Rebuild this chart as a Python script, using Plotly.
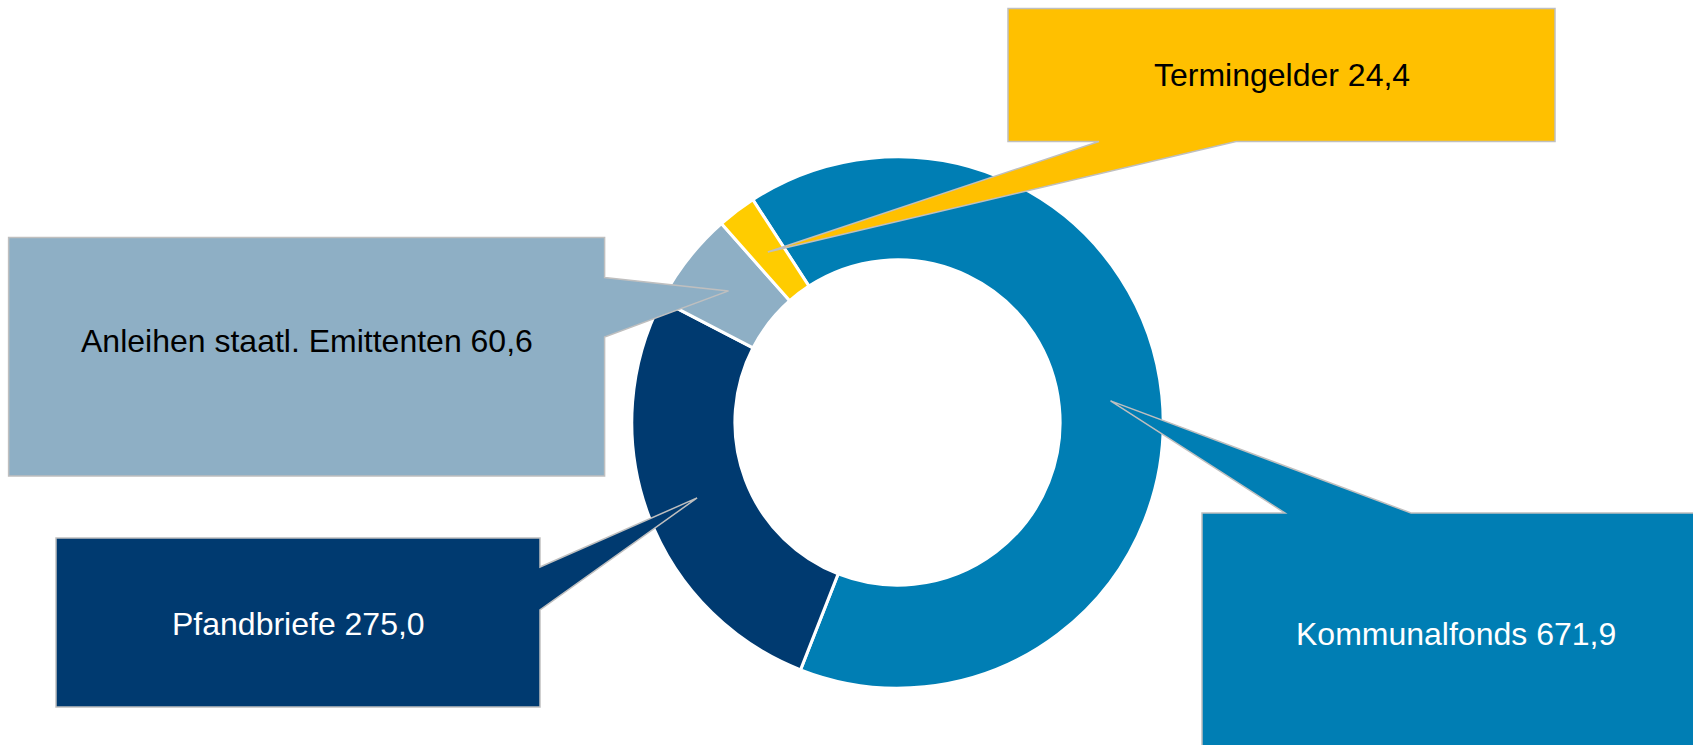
import math
import plotly.graph_objects as go

# ---- data ----
labels = ["Kommunalfonds", "Pfandbriefe", "Anleihen staatl. Emittenten", "Termingelder"]
values = [671.9, 275.0, 60.6, 24.4]
value_labels = ["671,9", "275,0", "60,6", "24,4"]

# ---- styles ----
slice_colors = ["#007EB4", "#003A70", "#8EAFC5", "#FFCC00"]
box_colors = ["#007EB4", "#003A70", "#8EAFC5", "#FFC000"]
text_colors = ["#FFFFFF", "#FFFFFF", "#000000", "#000000"]

W, H = 1693, 745
CX, CY, R_OUT = 897.5, 422.5, 265.7
HOLE = 0.612
ROTATION = -33
FONT = "Arial, Liberation Sans, sans-serif"

# callout boxes (pixel layout): box=(x0,y0,x1,y1), pointer side, pointer base span, text y
callouts = [
    dict(box=(1202, 513, 1709, 760), side="top", base=(1285, 1411), ty=634),
    dict(box=(56, 538, 540, 707), side="right", base=(567, 610), ty=624),
    dict(box=(8.6, 237.5, 604.6, 476), side="right", base=(277.5, 337), ty=341),
    dict(box=(1008, 8.6, 1555, 141.5), side="bottom", base=(1099, 1236), ty=75),
]


def px(x):
    return x / W


def py(y):
    return 1 - y / H


fig = go.Figure(
    go.Pie(
        labels=labels,
        values=values,
        hole=HOLE,
        sort=False,
        direction="clockwise",
        rotation=ROTATION,
        marker=dict(colors=slice_colors, line=dict(color="white", width=3)),
        textinfo="none",
        hoverinfo="skip",
        showlegend=False,
        domain=dict(x=[px(CX - R_OUT), px(CX + R_OUT)],
                    y=[py(CY + R_OUT), py(CY - R_OUT)]),
    )
)

# pointer tips: middle of each slice (angle) at middle of the ring (radius)
total = sum(values)
r_mid = R_OUT * (1 + HOLE) / 2
cum = 0.0
shapes, annotations = [], []
for i, v in enumerate(values):
    a = math.radians(ROTATION + (cum + v / 2) / total * 360)
    cum += v
    tx, ty_tip = CX + r_mid * math.sin(a), CY - r_mid * math.cos(a)
    c = callouts[i]
    x0, y0, x1, y1 = c["box"]
    b1, b2 = c["base"]
    if c["side"] == "top":
        pts = [(x0, y0), (b1, y0), (tx, ty_tip), (b2, y0), (x1, y0), (x1, y1), (x0, y1)]
    elif c["side"] == "right":
        pts = [(x0, y0), (x1, y0), (x1, b1), (tx, ty_tip), (x1, b2), (x1, y1), (x0, y1)]
    else:  # bottom
        pts = [(x0, y0), (x1, y0), (x1, y1), (b2, y1), (tx, ty_tip), (b1, y1), (x0, y1)]
    path = "M " + " L ".join(f"{px(x):.5f},{py(y):.5f}" for x, y in pts) + " Z"
    shapes.append(dict(type="path", path=path, xref="paper", yref="paper",
                       fillcolor=box_colors[i], line=dict(color="#BFBFBF", width=1.5),
                       layer="above"))
    annotations.append(dict(x=px((x0 + x1) / 2), y=py(c["ty"]), xref="paper", yref="paper",
                            text=f"{labels[i]} {value_labels[i]}", showarrow=False,
                            xanchor="center", yanchor="middle",
                            font=dict(family=FONT, size=32, color=text_colors[i])))

fig.update_layout(
    width=W, height=H,
    margin=dict(l=0, r=0, t=0, b=0),
    paper_bgcolor="white", plot_bgcolor="white",
    shapes=shapes, annotations=annotations,
)

fig.write_html("out.html", config={"displayModeBar": False},
               post_script="document.body.style.margin='0';document.body.style.overflow='hidden';")
